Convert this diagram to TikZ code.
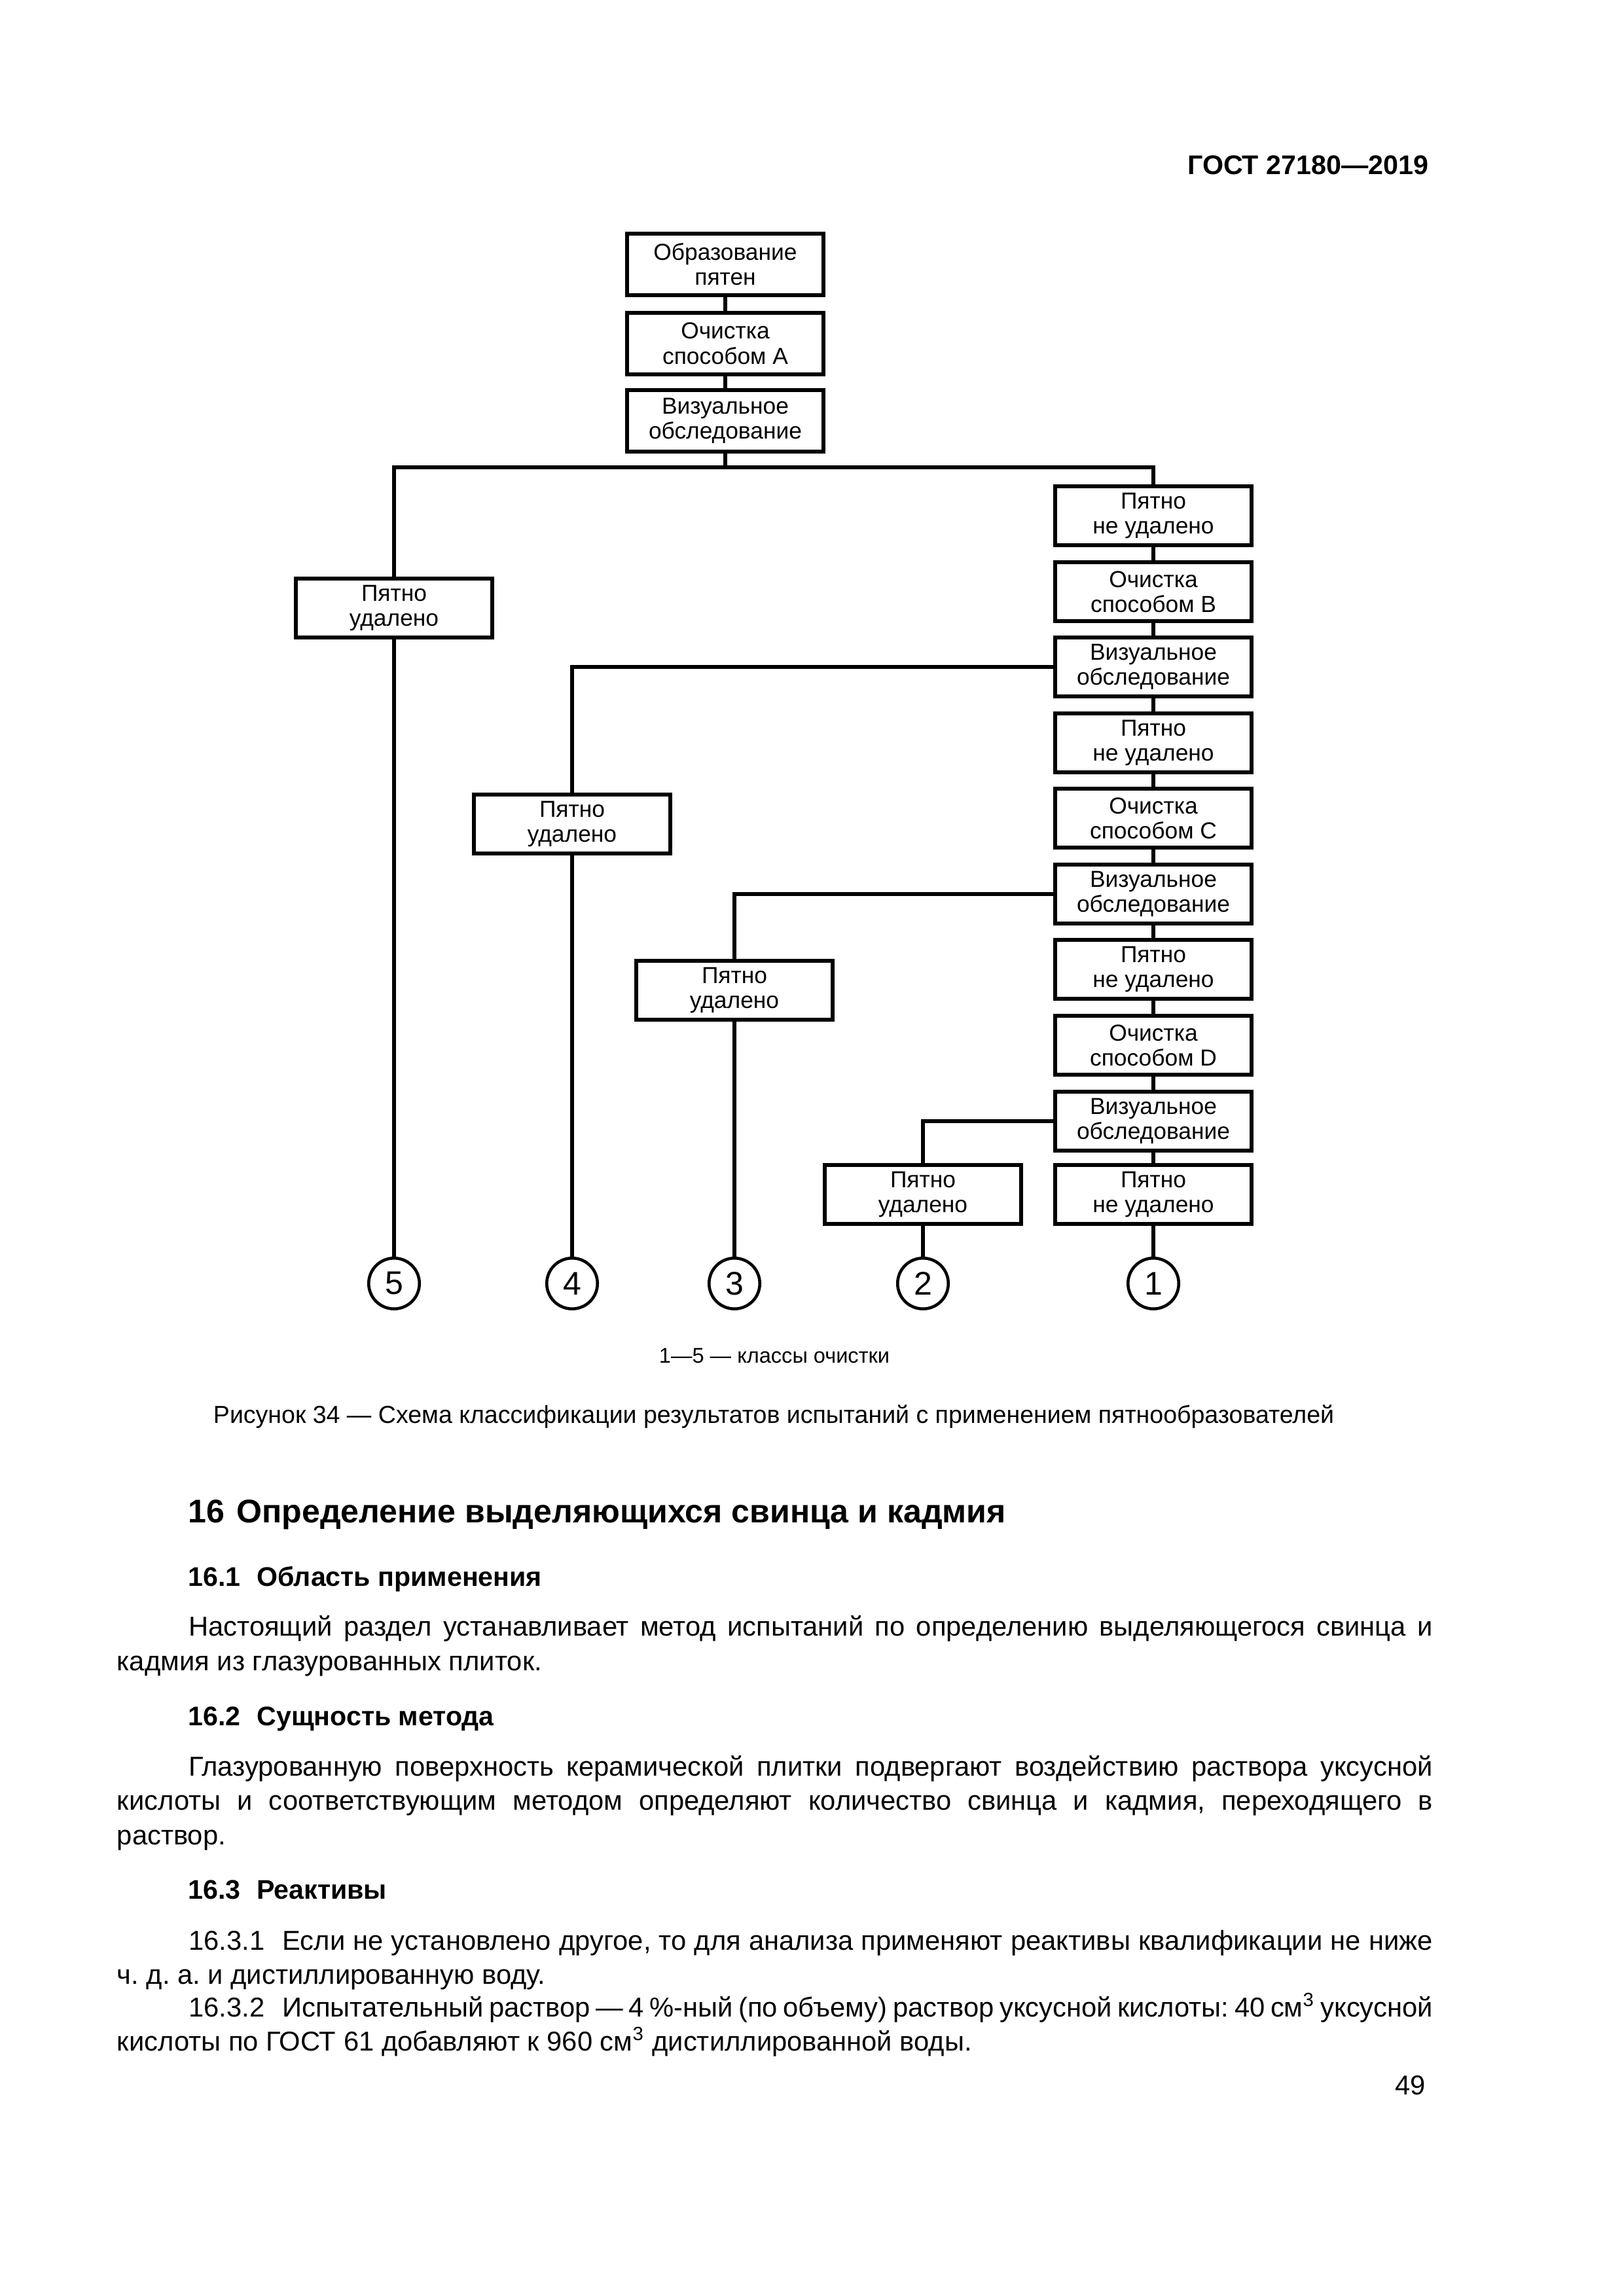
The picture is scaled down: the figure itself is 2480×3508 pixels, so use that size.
\documentclass[tikz,border=0pt]{standalone}
\usepackage{fontspec}
\setmainfont{Liberation Sans}
\newlength\tmpw
\newcommand\calcsize[4]{\setbox0=\hbox{\normalfont\fontsize{10}{12}\selectfont#2#3}\global\tmpw=\wd0\relax\pgfmathsetmacro\tmpres{10*#4/\tmpw}\global\let#1\tmpres}
\AtBeginDocument{%
\calcsize{\boxsz}{}{Образование}{52.6}%
\calcsize{\bodysz}{}{кадмия из глазурованных плиток.}{155.8}%
\calcsize{\capsz}{}{Рисунок 34 — Схема классификации результатов испытаний с применением пятнообразователей}{410.9}%
\calcsize{\keysz}{}{1—5 — классы очистки}{84.5}%
\calcsize{\hasz}{\bfseries}{16\hspace{0.36em}Определение выделяющихся свинца и кадмия}{299.8}%
\calcsize{\hbsz}{\bfseries}{16.1\hspace{0.6em}Область применения}{129.6}%
\calcsize{\hdrsz}{\bfseries}{ГОСТ 27180—2019}{88.3}%
}
\begin{document}
\frenchspacing
\begin{tikzpicture}[x=0.24pt,y=-0.24pt]
\tikzset{
  box/.style={draw, line width=1.4pt, minimum width=72pt, minimum height=21.6pt,
    inner sep=0pt, align=center, font=\fontsize{\boxsz}{9.2}\selectfont},
  topbox/.style={box, minimum height=22.6pt},
  cls/.style={circle, draw, line width=1.1pt, minimum size=18.6pt, inner sep=0pt,
    font=\fontsize{12}{12}\selectfont},
  conn/.style={line width=1.4pt, line join=miter},
  txt/.style={inner sep=0pt, anchor=base west, font=\fontsize{\bodysz}{12}\selectfont\frenchspacing},
  hb/.style={inner sep=0pt, anchor=base west, font=\fontsize{\hbsz}{12}\selectfont\bfseries},
}
\fill[white] (0,0) rectangle (2480,3508);
\useasboundingbox (0,0) rectangle (2480,3508);

% header
\node[inner sep=0pt, anchor=base east, font=\fontsize{\hdrsz}{12}\selectfont\bfseries] (hdr) at (2183,267) {ГОСТ 27180—2019};

% top column
\node[topbox] (A1) at (1108,404) {Образование\\пятен};
\node[topbox] (A2) at (1108,525) {Очистка\\способом А};
\node[topbox] (A3) at (1108,643) {Визуальное\\обследование};

% right column
\node[box] (R1) at (1762,788) {Пятно\\не удалено};
\node[box] (R2) at (1762,904) {Очистка\\способом В};
\node[box] (R3) at (1762,1019) {Визуальное\\обследование};
\node[box] (R4) at (1762,1135) {Пятно\\не удалено};
\node[box] (R5) at (1762,1250) {Очистка\\способом С};
\node[box] (R6) at (1762,1366) {Визуальное\\обследование};
\node[box] (R7) at (1762,1481) {Пятно\\не удалено};
\node[box] (R8) at (1762,1597) {Очистка\\способом D};
\node[box] (R9) at (1762,1713) {Визуальное\\обследование};
\node[box] (R10) at (1762,1825) {Пятно\\не удалено};

% left boxes
\node[box] (L5) at (602,929) {Пятно\\удалено};
\node[box] (L4) at (874,1259) {Пятно\\удалено};
\node[box] (L3) at (1122,1513) {Пятно\\удалено};
\node[box] (L2) at (1410,1825) {Пятно\\удалено};

% class circles
\node[cls] (C5) at (602,1961) {5};
\node[cls] (C4) at (874,1961) {4};
\node[cls] (C3) at (1122,1961) {3};
\node[cls] (C2) at (1410,1961) {2};
\node[cls] (C1) at (1762,1961) {1};

% connectors
\coordinate (busL) at (602,714);
\coordinate (busR) at (1762,714);
\draw[conn] (A1) -- (A2);
\draw[conn] (A2) -- (A3);
\draw[conn] (A3.south) -- (A3.south |- busL);
\draw[conn] (L5.north) -- (busL) -- (busR) -- (R1.north);
\draw[conn] (R1) -- (R2);
\draw[conn] (R2) -- (R3);
\draw[conn] (R3) -- (R4);
\draw[conn] (R4) -- (R5);
\draw[conn] (R5) -- (R6);
\draw[conn] (R6) -- (R7);
\draw[conn] (R7) -- (R8);
\draw[conn] (R8) -- (R9);
\draw[conn] (R9) -- (R10);
\draw[conn] (R3.west) -| (L4.north);
\draw[conn] (R6.west) -| (L3.north);
\draw[conn] (R9.west) -| (L2.north);
\draw[conn] (L5) -- (C5);
\draw[conn] (L4) -- (C4);
\draw[conn] (L3) -- (C3);
\draw[conn] (L2) -- (C2);
\draw[conn] (R10) -- (C1);

% captions
\node[inner sep=0pt, anchor=base, font=\fontsize{\keysz}{12}\selectfont] (key) at (1183,2082) {1—5 — классы очистки};
\node[inner sep=0pt, anchor=base, font=\fontsize{\capsz}{12}\selectfont] (cap) at (1182,2174) {Рисунок 34 — Схема классификации результатов испытаний с применением пятнообразователей};

% section text
\node[inner sep=0pt, anchor=base west, font=\fontsize{\hasz}{14}\selectfont\bfseries] (h16) at (287,2326) {16\hspace{0.36em}Определение выделяющихся свинца и кадмия};
\node[hb] (h161) at (287,2423) {16.1\hspace{0.6em}Область применения};
\node[txt] (p1a) at (287.5,2499) {\makebox[456.1pt][s]{Настоящий раздел устанавливает метод испытаний по определению выделяющегося свинца и}};
\node[txt] (p1b) at (178,2552) {кадмия из глазурованных плиток.};
\node[hb] (h162) at (287,2636) {16.2\hspace{0.6em}Сущность метода};
\node[txt] (p2a) at (287.5,2713) {\makebox[456.1pt][s]{Глазурованную поверхность керамической плитки подвергают воздействию раствора уксусной}};
\node[txt] (p2b) at (178,2765) {\makebox[482.4pt][s]{кислоты и соответствующим методом определяют количество свинца и кадмия, переходящего в}};
\node[txt] (p2c) at (178,2818) {раствор.};
\node[hb] (h163) at (287,2901) {16.3\hspace{0.6em}Реактивы};
\node[txt] (p3a) at (287.5,2979) {\makebox[456.1pt][s]{16.3.1\hspace{0.65em}Если не установлено другое, то для анализа применяют реактивы квалификации не ниже}};
\node[txt] (p3b) at (178,3031) {ч. д. а. и дистиллированную воду.};
\node[txt] (p4a) at (287.5,3081) {\makebox[456.1pt][s]{16.3.2\hspace{0.65em}Испытательный раствор — 4~\%-ный (по объему) раствор уксусной кислоты: 40 см\textsuperscript{3} уксусной}};
\node[txt] (p4b) at (178,3133) {кислоты по ГОСТ 61 добавляют к 960 см\textsuperscript{3} дистиллированной воды.};
\node[txt, anchor=base east] (pg) at (2179,3200) {49};
\end{tikzpicture}
\end{document}
